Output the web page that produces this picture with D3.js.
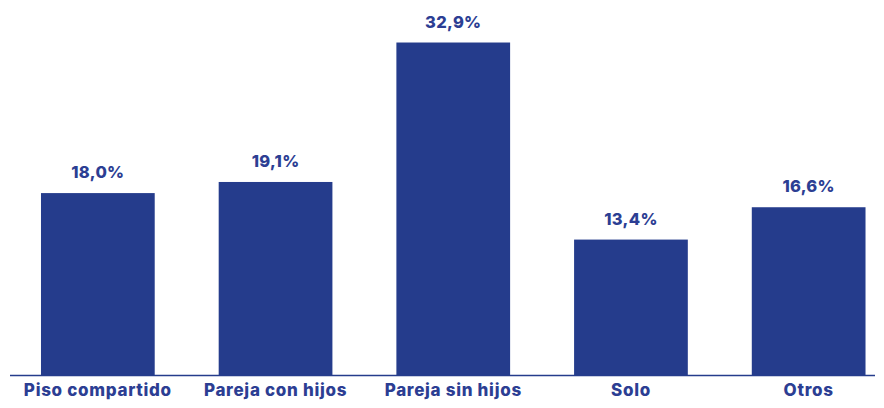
<!DOCTYPE html>
<html><head><meta charset="utf-8">
<script src="https://cdn.jsdelivr.net/npm/d3@7"></script>
<style>body{margin:0;background:#fff}svg{display:block}</style>
</head><body>
<svg id="c" width="884" height="408"></svg>
<script>
const categories = ["Piso compartido","Pareja con hijos","Pareja sin hijos","Solo","Otros"];
const values = [18.0, 19.1, 32.9, 13.4, 16.6];
const labels = ["18,0%","19,1%","32,9%","13,4%","16,6%"];

const svg = d3.select("#c");
const barColor = "#253c8c";
const textColor = "#2c3e93";
const baseY = 375;
const x = d3.scaleBand().domain(categories).range([9, 897.5]).paddingInner(0.36).paddingOuter(0.18);
const y = d3.scaleLinear().domain([0, 33]).range([baseY, 41.5]);

svg.selectAll("rect.bar").data(values).join("rect")
  .attr("class","bar")
  .attr("x",(d,i)=>x(categories[i]))
  .attr("width",x.bandwidth())
  .attr("y",d=>y(d))
  .attr("height",d=>baseY-y(d))
  .attr("fill",barColor);

svg.append("line").attr("x1",10).attr("x2",875).attr("y1",baseY+0.5).attr("y2",baseY+0.5)
  .attr("stroke",barColor).attr("stroke-width",1.5);

svg.selectAll("text.val").data(values).join("text")
  .attr("class","val")
  .attr("x",(d,i)=>x(categories[i])+x.bandwidth()/2)
  .attr("y",d=>y(d)-15)
  .attr("text-anchor","middle")
  .attr("font-family","Inter, 'Open Sans', sans-serif")
  .attr("font-weight",800)
  .attr("font-size",16.5)
  .attr("letter-spacing",0.3)
  .attr("fill",textColor)
  .text((d,i)=>labels[i]);

svg.selectAll("text.cat").data(categories).join("text")
  .attr("class","cat")
  .attr("x",d=>x(d)+x.bandwidth()/2)
  .attr("y",396)
  .attr("text-anchor","middle")
  .attr("font-family","Inter, 'Open Sans', sans-serif")
  .attr("font-weight",800)
  .attr("font-size",17)
  .attr("letter-spacing",0.7)
  .attr("fill",textColor)
  .text(d=>d);
</script>
</body></html>
